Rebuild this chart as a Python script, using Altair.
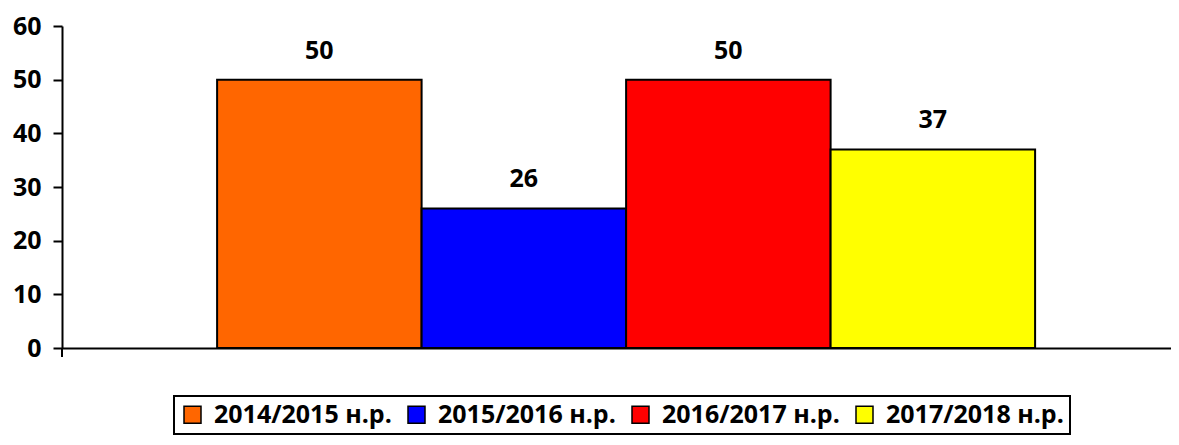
import altair as alt
import pandas as pd

years = ["2014/2015 н.р.", "2015/2016 н.р.", "2016/2017 н.р.", "2017/2018 н.р."]
values = [50, 26, 50, 37]
colors = ["#FF6600", "#0000FF", "#FF0000", "#FFFF00"]
y_ticks = [0, 10, 20, 30, 40, 50, 60]

df = pd.DataFrame({"year": years, "value": values})

FONT = "Open Sans"
W, H = 1109, 322

x_enc = alt.X("year:N", sort=years,
              scale=alt.Scale(paddingInner=0, paddingOuter=0.7115, align=0.533),
              axis=alt.Axis(labels=False, ticks=False, title=None, domain=True,
                            domainColor="black", domainWidth=2, grid=False))
y_enc = alt.Y("value:Q", scale=alt.Scale(domain=[0, 60], nice=False),
              axis=alt.Axis(values=y_ticks, title=None, grid=False,
                            domainColor="black", domainWidth=2,
                            tickColor="black", tickWidth=2, tickSize=9,
                            labelFont=FONT, labelFontSize=25, labelFontWeight="bold",
                            labelColor="black", labelPadding=12))

bars = alt.Chart(df).mark_bar(stroke="black", strokeWidth=2).encode(
    x=x_enc,
    y=y_enc,
    color=alt.Color("year:N", sort=years,
                    scale=alt.Scale(domain=years, range=colors),
                    legend=alt.Legend(title=None, orient="none", legendX=112, legendY=370,
                                      direction="horizontal",
                                      strokeColor="black", padding=6,
                                      symbolType="square", symbolSize=289,
                                      symbolStrokeColor="black", symbolStrokeWidth=1.5,
                                      labelFont=FONT, labelFontSize=25, labelFontWeight="bold",
                                      labelColor="black", labelOffset=9, columnPadding=12,
                                      labelLimit=400)),
)

labels = alt.Chart(df).mark_text(font=FONT, fontSize=25, fontWeight="bold",
                                 color="black", baseline="alphabetic", dy=-21).encode(
    x=alt.X("year:N", sort=years),
    y="value:Q",
    text="value:Q",
)

left_tick = alt.Chart(df).mark_rule(color="black", strokeWidth=2).encode(
    x=alt.value(0), y=alt.value(H), y2=alt.value(H + 9)
)

chart = alt.layer(bars, labels, left_tick).properties(
    width=W, height=H,
    autosize=alt.AutoSizeParams(type="none"),
    padding={"left": 54, "top": 18, "right": 0, "bottom": 89},
).configure_view(stroke=None).configure_legend(strokeWidth=2)

chart.save("out.html", embed_options={"renderer": "svg", "actions": False})
